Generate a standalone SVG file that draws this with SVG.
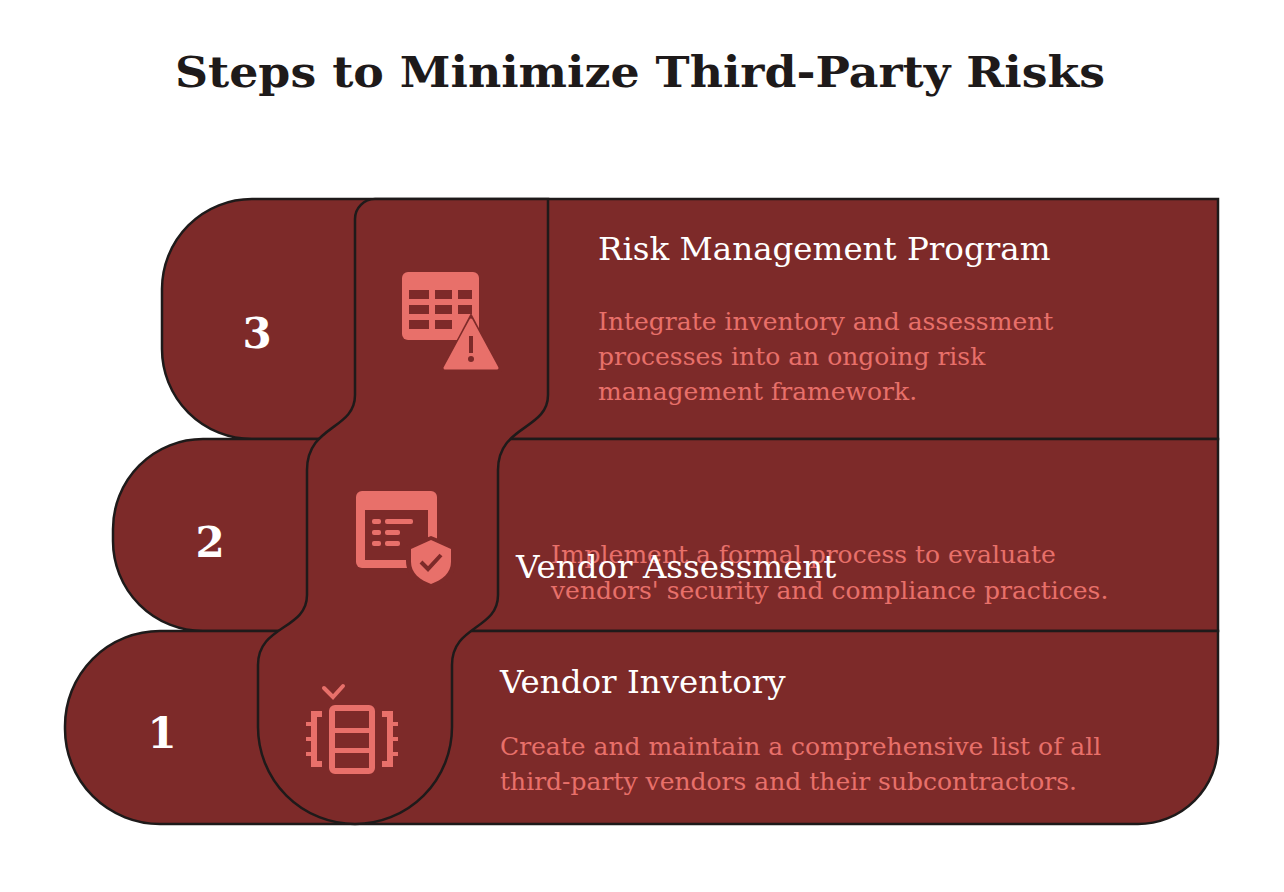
<svg xmlns="http://www.w3.org/2000/svg" width="1284" height="892" viewBox="0 0 1284 892">
<style>
.sh{fill:#7d2a29;stroke:#1e1a1a;stroke-width:2.5}
.ic{fill:#e8706a}
.dk{fill:#7d2a29}
.num{font-family:"DejaVu Serif",serif;font-weight:bold;font-size:42px;fill:#fff;text-anchor:middle}
.tt{font-family:"DejaVu Serif",serif;font-size:32.5px;fill:#fff}
.ds{font-family:"DejaVu Serif",serif;font-size:25px;fill:#e8706a}
</style>
<rect width="1284" height="892" fill="#fff"/>
<text x="640" y="87" text-anchor="middle" font-family="DejaVu Serif, serif" font-weight="bold" font-size="42" fill="#1e1a1a" textLength="930" lengthAdjust="spacingAndGlyphs">Steps to Minimize Third-Party Risks</text>
<g id="row3"><path class="sh" d="M252,199 H1218 V439 H252 A90,90 0 0 1 162,349 V289 A90,90 0 0 1 252,199 Z"/></g>
<g id="row2"><path class="sh" d="M203,439 H1218 V631 H203 A90,90 0 0 1 113,541 V529 A90,90 0 0 1 203,439 Z"/></g>
<g id="row1"><path class="sh" d="M160,631 H1218 V744 A80,80 0 0 1 1138,824 H160 A95,95 0 0 1 65,729 V726 A95,95 0 0 1 160,631 Z"/></g>
<g id="band"><path class="sh" d="M375,199 H548 V395 C548,430 498,425 498,470 V595 C498,630 452,625 452,665 V727 A97,97 0 0 1 258,727 V665 C258,625 307,630 307,595 V470 C307,425 355,430 355,395 V219 A20,20 0 0 1 375,199 Z"/></g>
<g id="step3">
<text class="num" x="257" y="348">3</text>
<rect class="ic" x="402" y="272" width="77" height="68" rx="6"/>
<g class="dk"><rect x="409" y="290" width="20" height="9"/><rect x="435" y="290" width="17" height="9"/><rect x="458" y="290" width="14" height="9"/>
<rect x="409" y="305" width="20" height="9"/><rect x="435" y="305" width="17" height="9"/><rect x="458" y="305" width="14" height="9"/>
<rect x="409" y="320" width="20" height="9"/><rect x="435" y="320" width="17" height="9"/></g>
<path d="M471,313 L502,372 H440 Z" fill="#7d2a29"/>
<path class="ic" d="M471,320 L497,368 H445 Z" stroke="#e8706a" stroke-width="3" stroke-linejoin="round"/>
<rect class="dk" x="469" y="336" width="4" height="17"/><circle class="dk" cx="471" cy="359" r="3"/>
<text class="tt" x="598" y="260">Risk Management Program</text>
<text class="ds" x="598" y="330">Integrate inventory and assessment</text>
<text class="ds" x="598" y="365">processes into an ongoing risk</text>
<text class="ds" x="598" y="400">management framework.</text>
</g>
<g id="step2">
<text class="num" x="210" y="557">2</text>
<rect class="ic" x="356" y="491" width="81" height="77" rx="6"/>
<rect class="dk" x="365" y="510" width="63" height="50"/>
<g class="ic"><rect x="372" y="519" width="9" height="5" rx="2"/><rect x="385" y="519" width="28" height="5" rx="2"/>
<rect x="372" y="530" width="9" height="5" rx="2"/><rect x="385" y="530" width="15" height="5" rx="2"/>
<rect x="372" y="541" width="9" height="5" rx="2"/><rect x="385" y="541" width="15" height="5" rx="2"/></g>
<path d="M431,536 L456,546 V561 C456,575 445,585 431,590 C417,585 406,575 406,561 V546 Z" fill="#7d2a29"/>
<path class="ic" d="M431,540 L451,549 V562 C451,573 442,580 431,584 C420,580 411,573 411,562 V549 Z"/>
<path d="M421,562 L428,569 L441,555" fill="none" stroke="#7d2a29" stroke-width="4"/>
<text class="ds" x="551" y="563">Implement a formal process to evaluate</text>
<text class="ds" x="551" y="599">vendors' security and compliance practices.</text>
<text class="tt" x="516" y="578">Vendor Assessment</text>
</g>
<g id="step1">
<text class="num" x="162" y="748">1</text>
<path d="M324,688 L333,697 L343,686" fill="none" stroke="#e8706a" stroke-width="4" stroke-linecap="round"/>
<rect x="332" y="708" width="40" height="63" rx="3" fill="none" stroke="#e8706a" stroke-width="6"/>
<rect class="ic" x="332" y="728" width="40" height="5"/><rect class="ic" x="332" y="748" width="40" height="5"/>
<path d="M322,714 H314 V764 H322" fill="none" stroke="#e8706a" stroke-width="6"/>
<path d="M382,714 H390 V764 H382" fill="none" stroke="#e8706a" stroke-width="6"/>
<g class="ic"><rect x="306" y="722" width="6" height="4"/><rect x="306" y="737" width="6" height="4"/><rect x="306" y="752" width="6" height="4"/>
<rect x="392" y="722" width="6" height="4"/><rect x="392" y="737" width="6" height="4"/><rect x="392" y="752" width="6" height="4"/></g>
<text class="tt" x="500" y="693">Vendor Inventory</text>
<text class="ds" x="500" y="755">Create and maintain a comprehensive list of all</text>
<text class="ds" x="500" y="790">third-party vendors and their subcontractors.</text>
</g>
</svg>
